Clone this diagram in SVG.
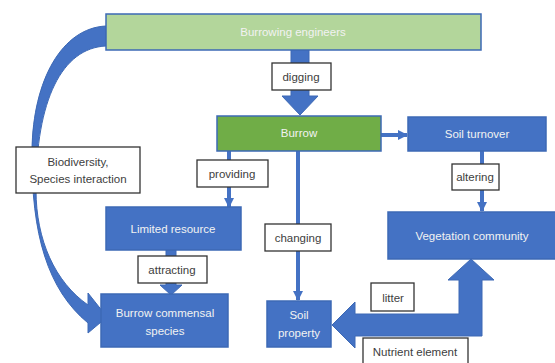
<svg xmlns="http://www.w3.org/2000/svg" width="555" height="363" viewBox="0 0 555 363">
<defs>
<style>
.node rect{stroke:#3d69b5;stroke-width:1.5}
.blue{fill:#4472c4}
.ntext{font-family:"Liberation Sans",Arial,sans-serif;font-size:11.5px;fill:#f2f2f2;text-anchor:middle;dominant-baseline:central}
.lbl rect{fill:#ffffff;stroke:#333333;stroke-width:1.3}
.ltext{font-family:"Liberation Sans",Arial,sans-serif;font-size:11.5px;fill:#404040;text-anchor:middle;dominant-baseline:central}
.line{stroke:#4472c4;stroke-width:4;fill:none}
.big{fill:#4472c4;stroke:#3d69b5;stroke-width:1}
</style>
<marker id="ah" viewBox="0 0 10 10" refX="9" refY="5" markerWidth="2.6" markerHeight="2.6" orient="auto" markerUnits="strokeWidth">
<path d="M0,0 L10,5 L0,10 Z" fill="#4472c4"/>
</marker>
</defs>
<rect width="555" height="363" fill="#ffffff"/>
<g id="connectors">
<path class="big" d="M106,26 C62,28 33,80 32,150 C31,235 48,290 88,323 L88,333 L107,317 L88,293 L88,305 C55,282 36,240 36,190 C36,100 62,48 106,46 Z"/>
<path class="big" d="M291,50 L309,50 L309,96 L318,96 L300,115 L282,96 L291,96 Z"/>
<path class="big" d="M166,250 L176,250 L176,285 L182,285 L171,295 L160,285 L166,285 Z"/>
<path class="big" d="M332,325 L355,302 L355,314 L459,314 L459,280 L448,280 L471,259 L494,280 L482,280 L482,336 L355,336 L355,348 Z"/>
<line class="line" x1="381" y1="135" x2="407" y2="135" marker-end="url(#ah)"/>
<line class="line" x1="482" y1="151" x2="482" y2="211" marker-end="url(#ah)"/>
<line class="line" x1="298" y1="151" x2="298" y2="300" marker-end="url(#ah)"/>
<line class="line" x1="229" y1="151" x2="229" y2="207" marker-end="url(#ah)"/>
</g>
<g id="burrowing-engineers" class="node">
<rect x="106" y="14" width="375" height="36" fill="#b3d69b"/>
<text class="ntext" x="293" y="32">Burrowing engineers</text>
</g>
<g id="burrow" class="node">
<rect x="217" y="116" width="164" height="35" fill="#70ad47"/>
<text class="ntext" x="299" y="133">Burrow</text>
</g>
<g id="soil-turnover" class="node">
<rect x="408" y="117" width="138" height="34" class="blue"/>
<text class="ntext" x="477" y="134">Soil turnover</text>
</g>
<g id="vegetation-community" class="node">
<rect x="388" y="212" width="168" height="47" class="blue"/>
<text class="ntext" x="472" y="236">Vegetation community</text>
</g>
<g id="limited-resource" class="node">
<rect x="106" y="207" width="135" height="43" class="blue"/>
<text class="ntext" x="173" y="229">Limited resource</text>
</g>
<g id="burrow-commensal-species" class="node">
<rect x="101" y="294" width="127" height="53" class="blue"/>
<text class="ntext" x="165" y="313">Burrow commensal</text>
<text class="ntext" x="165" y="331">species</text>
</g>
<g id="soil-property" class="node">
<rect x="267" y="301" width="64" height="46" class="blue"/>
<text class="ntext" x="299" y="315">Soil</text>
<text class="ntext" x="299" y="333">property</text>
</g>
<g id="label-biodiversity" class="lbl">
<rect x="16" y="147" width="124" height="46"/>
<text class="ltext" x="78" y="162">Biodiversity,</text>
<text class="ltext" x="78" y="179">Species interaction</text>
</g>
<g id="label-digging" class="lbl">
<rect x="272" y="63" width="59" height="27"/>
<text class="ltext" x="301" y="77">digging</text>
</g>
<g id="label-providing" class="lbl">
<rect x="197" y="160" width="71" height="27"/>
<text class="ltext" x="232" y="174">providing</text>
</g>
<g id="label-altering" class="lbl">
<rect x="452" y="164" width="47" height="26"/>
<text class="ltext" x="475" y="177">altering</text>
</g>
<g id="label-changing" class="lbl">
<rect x="265" y="224" width="66" height="27"/>
<text class="ltext" x="298" y="238">changing</text>
</g>
<g id="label-attracting" class="lbl">
<rect x="138" y="256" width="69" height="27"/>
<text class="ltext" x="172" y="270">attracting</text>
</g>
<g id="label-litter" class="lbl">
<rect x="371" y="283" width="43" height="28"/>
<text class="ltext" x="393" y="298">litter</text>
</g>
<g id="label-nutrient" class="lbl">
<rect x="363" y="338" width="105" height="30"/>
<text class="ltext" x="415" y="352">Nutrient element</text>
</g>
</svg>
